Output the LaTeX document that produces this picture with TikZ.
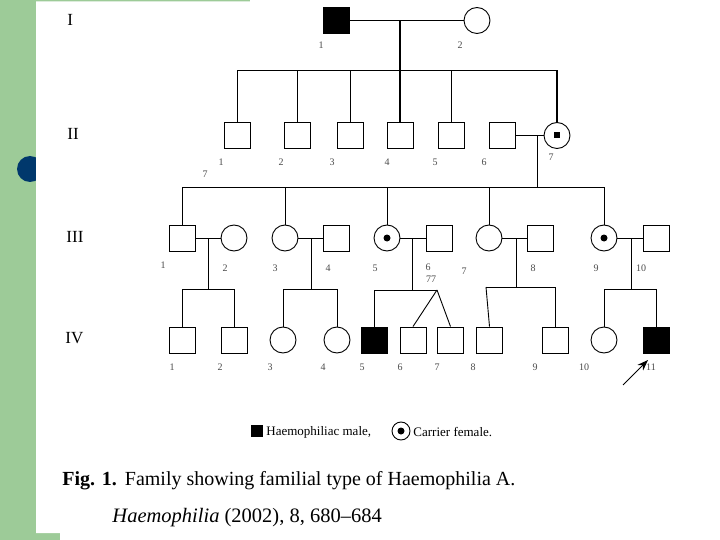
\documentclass[tikz,border=0pt]{standalone}
\usepackage{fontspec}
\setmainfont{Liberation Serif}
\usetikzlibrary{arrows.meta}
\definecolor{slidegreen}{RGB}{157,203,152}
\definecolor{slideblue}{RGB}{0,56,108}
\definecolor{numgray}{RGB}{75,75,75}
\begin{document}
\begin{tikzpicture}[x=1pt,y=-1pt,line width=0.9pt,
  male/.style={draw,rectangle,minimum size=26pt,inner sep=0pt,line width=0.9pt},
  affmale/.style={male,fill=black},
  female/.style={draw,circle,minimum size=26pt,inner sep=0pt,line width=0.9pt},
  carrier/.style={female,path picture={\fill (path picture bounding box.center) circle (3.5pt);}},
  carriersq/.style={female,path picture={\fill[shift={(path picture bounding box.center)}] (-3,-3) rectangle (3,3);}},
  gen/.style={font=\fontsize{17}{20}\selectfont,anchor=base west,inner sep=0pt},
  num/.style={font=\fontsize{10}{12}\selectfont,text=numgray,inner sep=0pt},
  thickline/.style={line width=1.8pt},
  legtext/.style={anchor=west,font=\fontsize{13}{15}\selectfont,inner sep=0pt}]
\useasboundingbox (0,0) rectangle (720,540);
% slide background
\fill[slidegreen] (0,0) rectangle (720,540);
\fill[slideblue] (30,169) circle (13pt);
\fill[white] (36,1.5) -- (250,1.5) -- (250,0) -- (720,0) -- (720,540) -- (60,540) -- (60,533) -- (36,533) -- cycle;

% generation labels
\node[gen] (gI) at (67,26) {I};
\node[gen] (gII) at (67,140) {II};
\node[gen] (gIII) at (66,243) {III};
\node[gen] (gIV) at (65,343) {IV};

% Generation I
\node[affmale] (I1) at (336.5,20.5) {};
\node[female] (I2) at (477,20.5) {};
\draw (I1) -- (I2);
\coordinate (mI) at (400,20.5);
\coordinate (sI) at (400,70);
\draw[thickline] (mI) -- (sI);

% Generation II
\node[male] (II1) at (237,135.5) {};
\node[male] (II2) at (297.5,135.5) {};
\node[male] (II3) at (350,135.5) {};
\node[male] (II4) at (400,135.5) {};
\node[male] (II5) at (451,135.5) {};
\node[male] (II6) at (502,135.5) {};
\node[carriersq] (II7) at (557,135.5) {};
\draw (II1.north |- sI) -- (II7.north |- sI);
\draw (II1.north) -- (II1.north |- sI);
\draw (II2.north) -- (II2.north |- sI);
\draw (II3.north) -- (II3.north |- sI);
\draw[thickline] (II4.north) -- (II4.north |- sI);
\draw (II5.north) -- (II5.north |- sI);
\draw[line width=1.4pt] (II7.north) -- (II7.north |- sI);
\draw (II6) -- (II7);
\coordinate (mII) at (537,135.5);
\coordinate (sII) at (537,187);
\draw (mII) -- (sII);

% Generation III
\node[male] (III1) at (182.5,238) {};
\node[female] (III2) at (234,238) {};
\node[female] (III3) at (285,238) {};
\node[male] (III4) at (336,238) {};
\node[carrier] (III5) at (387,238) {};
\node[male] (III6) at (439,238) {};
\node[female] (III7) at (489,238) {};
\node[male] (III8) at (540.5,238) {};
\node[carrier] (III9) at (604,238) {};
\node[male] (III10) at (656,238) {};
\draw (III1.north |- sII) -- (III9.north |- sII);
\foreach \c in {III1,III3,III5,III7,III9} \draw (\c.north) -- (\c.north |- sII);
\draw (III1) -- (III2);
\draw (III3) -- (III4);
\draw (III5) -- (III6);
\draw (III7) -- (III8);
\draw (III9) -- (III10);
\coordinate (m31) at (208,238); \coordinate (s31) at (208,289);
\coordinate (m32) at (311,238); \coordinate (s32) at (311,289);
\coordinate (m33) at (412,238); \coordinate (s33) at (412,290);
\coordinate (m34) at (516,238); \coordinate (s34) at (516,287);
\coordinate (m35) at (631,238); \coordinate (s35) at (631,289);
\draw (m31) -- (s31);
\draw (m32) -- (s32);
\draw (m33) -- (s33);
\draw (m34) -- (s34);
\draw (m35) -- (s35);

% Generation IV
\node[male] (IV1) at (182,340) {};
\node[male] (IV2) at (234.5,340) {};
\node[female] (IV3) at (283,340) {};
\node[female] (IV4) at (337,340) {};
\node[affmale] (IV5) at (374.5,340) {};
\node[male] (IV6) at (413,340) {};
\node[male] (IV7) at (450.5,340) {};
\node[male] (IV8) at (489.5,340) {};
\node[male] (IV9) at (555,340) {};
\node[female] (IV10) at (604,340) {};
\node[affmale] (IV11) at (656,340) {};
\draw (IV1.north) |- (IV2.north |- s31) -- (IV2.north);
\draw (IV3.north) |- (IV4.north |- s32) -- (IV4.north);
\coordinate (tw) at (437,290);
\draw (IV5.north) |- (tw);
\draw (tw) -- (IV6.north);
\draw (tw) -- (IV7.north);
\coordinate (b8) at (486,287);
\draw (b8) -- (IV8.north);
\draw (b8) -| (IV9.north);
\draw (IV10.north) |- (IV11.north |- s35) -- (IV11.north);

% proband arrow
\coordinate (arrtail) at (623,385);
\coordinate (arrtip) at (648,360);
\draw[-{Stealth[length=11pt,width=8pt]},line width=1pt] (arrtail) -- (arrtip);

% numbers
\node[num] (nI1) at (321,45) {1};
\node[num] (nI2) at (460,45) {2};
\node[num] (nII1) at (221,162) {1};
\node[num] (nII1b) at (205,174) {7};
\node[num] (nII2) at (281,162) {2};
\node[num] (nII3) at (332,162) {3};
\node[num] (nII4) at (387,162) {4};
\node[num] (nII5) at (435,162) {5};
\node[num] (nII6) at (484,162) {6};
\node[num] (nII7) at (551,157) {7};
\node[num] (nIII1) at (163,265) {1};
\node[num] (nIII2) at (225,268) {2};
\node[num] (nIII3) at (275,268) {3};
\node[num] (nIII4) at (328,268) {4};
\node[num] (nIII5) at (375,268) {5};
\node[num] (nIII6) at (428,267) {6};
\node[num] (nIII6b) at (431,279) {77};
\node[num] (nIII7) at (464,271) {7};
\node[num] (nIII8) at (533,268) {8};
\node[num] (nIII9) at (596,268) {9};
\node[num] (nIII10) at (641,268) {10};
\node[num] (nIV1) at (172,367) {1};
\node[num] (nIV2) at (220,367) {2};
\node[num] (nIV3) at (270,367) {3};
\node[num] (nIV4) at (323,367) {4};
\node[num] (nIV5) at (362,367) {5};
\node[num] (nIV6) at (400,367) {6};
\node[num] (nIV7) at (437,367) {7};
\node[num] (nIV8) at (473,367) {8};
\node[num] (nIV9) at (535,367) {9};
\node[num] (nIV10) at (584,367) {10};
\node[num] (nIV11) at (651,367) {11};

% legend
\node[fill=black,minimum size=12pt,inner sep=0pt] (legm) at (257,431) {};
\node[legtext] (legmt) at (266,432) {Haemophiliac male,};
\node[draw,circle,minimum size=18pt,inner sep=0pt,line width=0.9pt,
  path picture={\fill (path picture bounding box.center) circle (3.5pt);}] (legc) at (401,431) {};
\node[legtext] (legct) at (413,432) {Carrier female.};

% caption
\node[anchor=base west,inner sep=0pt,font=\fontsize{20}{24}\selectfont] (cap1) at (62,485)
  {\textbf{Fig. 1.}\hspace{0.4em}Family showing familial type of Haemophilia A.};
\node[anchor=base west,inner sep=0pt,font=\fontsize{20.5}{24}\selectfont] (cap2) at (112,522)
  {\textit{Haemophilia} (2002), 8, 680–684};
\end{tikzpicture}
\end{document}
